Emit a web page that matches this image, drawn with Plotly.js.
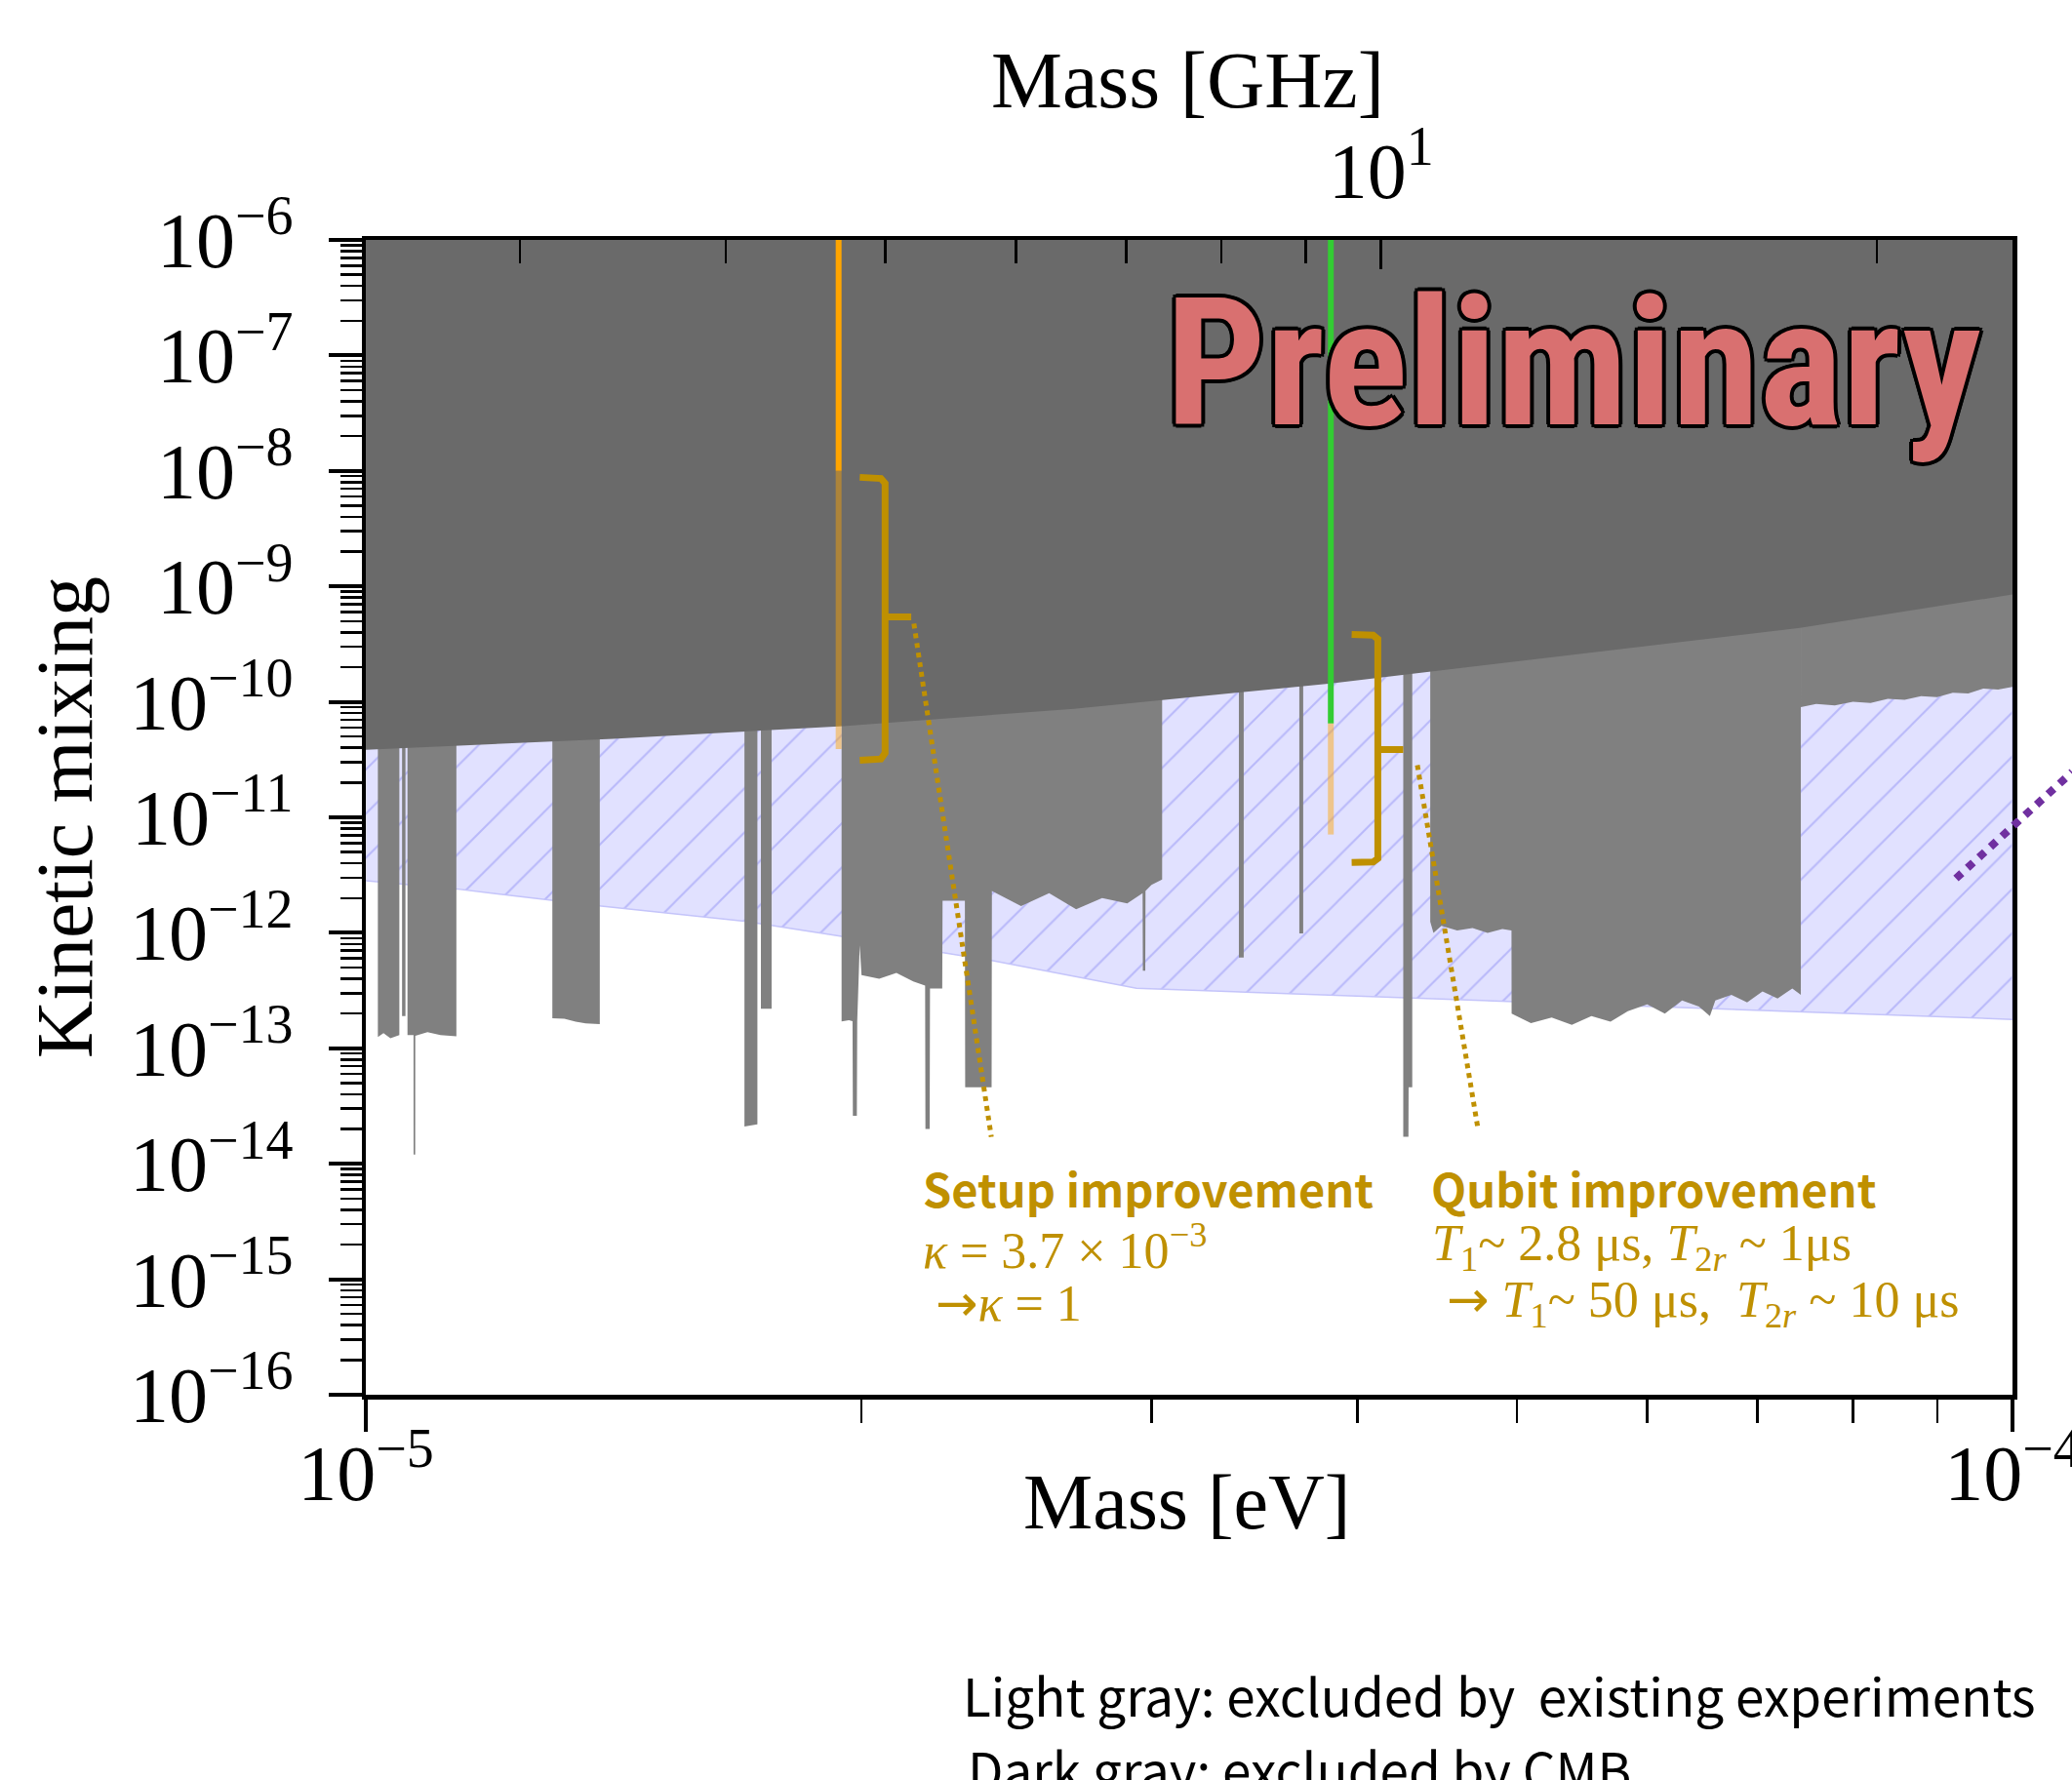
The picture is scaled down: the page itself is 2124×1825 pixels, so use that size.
<!DOCTYPE html>
<html><head><meta charset="utf-8">
<script src="https://cdn.plot.ly/plotly-3.0.1.min.js"></script>
<style>html,body{margin:0;padding:0;background:#fff;} #plot{width:2124px;height:1825px;}</style>
</head><body><div id="plot"></div>
<script>
// ================= DATA =================
const X_RANGE_EV = [1e-5, 1e-4];
const Y_RANGE = [1e-16, 1e-6];
const EV_PER_GHZ = 4.135667e-6;

const Y_TICK_VALS = [1e-16,1e-15,1e-14,1e-13,1e-12,1e-11,1e-10,1e-9,1e-8,1e-7,1e-6];
const Y_TICK_TEXT = ['10<sup>−16</sup>','10<sup>−15</sup>','10<sup>−14</sup>','10<sup>−13</sup>','10<sup>−12</sup>','10<sup>−11</sup>','10<sup>−10</sup>','10<sup>−9</sup>','10<sup>−8</sup>','10<sup>−7</sup>','10<sup>−6</sup>'];
const X_TICK_VALS = [1e-5, 1e-4];
const X_TICK_TEXT = ['10<sup>−5</sup>','10<sup>−4</sup>'];
const X_MINOR_VALS = [2e-5,3e-5,4e-5,5e-5,6e-5,7e-5,8e-5,9e-5];
const GHZ_TICK_VALS = [10];
const GHZ_TICK_TEXT = ['10<sup>1</sup>'];
const GHZ_MINOR_VALS = [3,4,5,6,7,8,9,20];

// CMB exclusion (dark gray) lower boundary
const CMB_MASS = [1.0e-5, 1.413e-5, 1.950e-5, 2.692e-5, 3.855e-5, 5.623e-5, 7.430e-5, 1.0e-4];
const CMB_EPS  = [3.85e-11, 4.79e-11, 6.17e-11, 8.71e-11, 1.445e-10, 2.75e-10, 4.37e-10, 8.51e-10];

// hatched region lower boundary
const HATCH_MASS = [1.0e-5, 1.135e-5, 1.390e-5, 1.698e-5, 1.945e-5, 2.399e-5, 2.938e-5, 1.0e-4];
const HATCH_EPS  = [2.82e-12, 2.40e-12, 1.70e-12, 1.26e-12, 9.33e-13, 5.75e-13, 3.31e-13, 1.78e-13];

// existing experiments (light gray), lower edges
const EXP1A_MASS = [1.017e-5, 1.025e-5, 1.035e-5, 1.048e-5];
const EXP1A_EPS  = [1.25e-13, 1.35e-13, 1.22e-13, 1.30e-13];
const EXP1B_MASS = [1.052e-5, 1.057e-5];
const EXP1B_EPS  = [1.9e-13, 1.9e-13];
const EXP1C_MASS = [1.060e-5, 1.069e-5, 1.0691e-5, 1.0715e-5, 1.0716e-5, 1.09e-5, 1.11e-5, 1.135e-5];
const EXP1C_EPS  = [1.30e-13, 1.30e-13, 1.2e-14, 1.2e-14, 1.28e-13, 1.38e-13, 1.30e-13, 1.27e-13];
const EXP2_MASS  = [1.298e-5, 1.32e-5, 1.341e-5, 1.36e-5, 1.387e-5];
const EXP2_EPS   = [1.82e-13, 1.80e-13, 1.70e-13, 1.64e-13, 1.62e-13];
const EXP3_MASS  = [1.698e-5, 1.729e-5];
const EXP3_EPS   = [2.1e-14, 2.2e-14];
const EXP4_MASS  = [1.7375e-5, 1.7637e-5];
const EXP4_EPS   = [2.2e-13, 2.2e-13];
const EXP5_MASS  = [1.945e-5,1.965e-5,1.975e-5,1.976e-5,1.987e-5,1.988e-5,1.995e-5,2.000e-5,2.05e-5,2.10e-5,2.15e-5,2.186e-5,2.187e-5,2.200e-5,2.201e-5,2.239e-5,2.240e-5,2.311e-5,2.312e-5,2.399e-5,2.400e-5,2.5e-5,2.6e-5,2.7e-5,2.8e-5,2.9e-5,2.963e-5,2.964e-5,2.974e-5,2.975e-5,3.0e-5,3.045e-5];
const EXP5_EPS   = [1.71e-13,1.75e-13,1.72e-13,2.6e-14,2.6e-14,1.7e-13,7.8e-13,4.3e-13,4.0e-13,4.5e-13,3.8e-13,3.5e-13,2.0e-14,2.0e-14,3.3e-13,3.3e-13,1.9e-12,1.9e-12,4.6e-14,4.6e-14,2.3e-12,1.7e-12,2.2e-12,1.6e-12,2.0e-12,1.8e-12,2.2e-12,4.7e-13,4.7e-13,2.3e-12,2.6e-12,2.9e-12];
const EXP6_MASS  = [3.390e-5, 3.413e-5];
const EXP6_EPS   = [6.1e-13, 6.1e-13];
const EXP7_MASS  = [3.689e-5, 3.709e-5];
const EXP7_EPS   = [9.9e-13, 9.9e-13];
const EXP8_MASS  = [4.266e-5, 4.297e-5, 4.298e-5, 4.320e-5];
const EXP8_EPS   = [1.71e-14, 1.71e-14, 4.6e-14, 4.6e-14];
const EXP9_MASS  = [4.43e-5,4.45e-5,4.5e-5,4.6e-5,4.7e-5,4.8e-5,4.9e-5,4.963e-5,4.964e-5,5.1e-5,5.25e-5,5.4e-5,5.55e-5,5.7e-5,5.84e-5,6.0e-5,6.15e-5,6.3e-5,6.45e-5,6.55e-5,6.6e-5,6.75e-5,6.9e-5,7.05e-5,7.2e-5,7.35e-5,7.438e-5];
const EXP9_EPS   = [1.25e-12,1.0e-12,1.15e-12,1.05e-12,1.1e-12,1.0e-12,1.08e-12,1.05e-12,2.0e-13,1.65e-13,1.85e-13,1.6e-13,1.9e-13,1.7e-13,2.1e-13,2.4e-13,2.0e-13,2.6e-13,2.3e-13,1.9e-13,2.6e-13,2.9e-13,2.5e-13,3.1e-13,2.7e-13,3.3e-13,2.9e-13];
const EXP10_MASS = [7.438e-5,7.6e-5,7.8e-5,8.0e-5,8.2e-5,8.4e-5,8.6e-5,8.8e-5,9.0e-5,9.2e-5,9.4e-5,9.6e-5,9.8e-5,1.0e-4];
const EXP10_EPS  = [9.0e-11,9.6e-11,9.3e-11,1.0e-10,9.8e-11,1.06e-10,1.04e-10,1.12e-10,1.1e-10,1.2e-10,1.18e-10,1.3e-10,1.28e-10,1.35e-10];

// this work: vertical lines
const ORANGE_MASS = 1.937e-5;
const ORANGE_SOLID_EPS = [1e-6, 1.0e-8];
const ORANGE_PALE_EPS  = [1.0e-8, 3.9e-11];
const GREEN_MASS = 3.855e-5;
const GREEN_SOLID_EPS = [1e-6, 6.5e-11];
const GREEN_PALE_EPS  = [6.5e-11, 7.1e-12];

// brackets
const BRACKET1_MASS = [1.995e-5, 2.055e-5, 2.067e-5, 2.067e-5, 2.144e-5, 2.067e-5, 2.067e-5, 2.055e-5, 1.995e-5];
const BRACKET1_EPS  = [8.8e-9, 8.6e-9, 7.8e-9, 5.45e-10, 5.45e-10, 5.45e-10, 3.6e-11, 3.2e-11, 3.12e-11];
const BRACKET2_MASS = [3.969e-5, 4.09e-5, 4.117e-5, 4.117e-5, 4.266e-5, 4.117e-5, 4.117e-5, 4.09e-5, 3.969e-5];
const BRACKET2_EPS  = [3.84e-10, 3.78e-10, 3.5e-10, 3.86e-11, 3.86e-11, 3.86e-11, 4.4e-12, 4.1e-12, 4.06e-12];

// dotted leader lines
const SETUP_LEADER_MASS = [2.152e-5, 2.398e-5];
const SETUP_LEADER_EPS  = [4.75e-10, 1.71e-14];
const QUBIT_LEADER_MASS = [4.351e-5, 4.735e-5];
const QUBIT_LEADER_EPS  = [2.83e-11, 2.04e-14];

// purple projection (leaves the frame)
const PURPLE_MASS = [9.24e-5, 1.087e-4];
const PURPLE_EPS  = [2.96e-12, 2.47e-11];

// ================= BUILD =================
const TOP = Y_RANGE[1];
const LIGHT = '#808080', DARK = '#6a6a6a', GOLD = '#bf9000';
const SERIF = '"Liberation Serif", "Times New Roman", serif';
const JP = '"Noto Sans CJK JP", "Noto Sans", sans-serif';
const ARROW = '<span style="font-family:\'DejaVu Sans\'">→</span>';

function band(mass, eps, color) {
  return {
    x: mass.concat([mass[mass.length-1], mass[0]]),
    y: eps.concat([TOP, TOP]),
    mode: 'lines', fill: 'toself', fillcolor: color,
    line: {width: 0, color: color}, hoverinfo: 'skip', showlegend: false
  };
}
function line(mass, eps, color, width, dash) {
  return {x: mass, y: eps, mode: 'lines', line: {color: color, width: width, dash: dash || 'solid'},
          hoverinfo: 'skip', showlegend: false};
}

const traces = [];
traces.push({
  x: HATCH_MASS.concat([X_RANGE_EV[1], X_RANGE_EV[0]]),
  y: HATCH_EPS.concat([TOP, TOP]),
  mode: 'lines', fill: 'toself', fillcolor: '#e0e0ff',
  fillpattern: {shape: '/', fgcolor: '#b8b8fa', bgcolor: '#e1e1ff', size: 32, solidity: 0.06},
  line: {color: '#c4c4fa', width: 1.5}, hoverinfo: 'skip', showlegend: false
});
[[EXP1A_MASS,EXP1A_EPS],[EXP1B_MASS,EXP1B_EPS],[EXP1C_MASS,EXP1C_EPS],[EXP2_MASS,EXP2_EPS],
 [EXP3_MASS,EXP3_EPS],[EXP4_MASS,EXP4_EPS],[EXP5_MASS,EXP5_EPS],[EXP6_MASS,EXP6_EPS],
 [EXP7_MASS,EXP7_EPS],[EXP8_MASS,EXP8_EPS],[EXP9_MASS,EXP9_EPS],[EXP10_MASS,EXP10_EPS]]
  .forEach(([m,e]) => traces.push(band(m, e, LIGHT)));
traces.push(band(CMB_MASS, CMB_EPS, DARK));
traces.push(line([ORANGE_MASS, ORANGE_MASS], ORANGE_SOLID_EPS, '#ffa500', 6));
traces.push(line([ORANGE_MASS, ORANGE_MASS], ORANGE_PALE_EPS, 'rgba(255,165,0,0.45)', 6));
traces.push(line([GREEN_MASS, GREEN_MASS], GREEN_SOLID_EPS, '#33cc33', 6));
traces.push(line([GREEN_MASS, GREEN_MASS], GREEN_PALE_EPS, 'rgba(255,165,0,0.45)', 6));
traces.push(line(BRACKET1_MASS, BRACKET1_EPS, GOLD, 7));
traces.push(line(BRACKET2_MASS, BRACKET2_EPS, GOLD, 7));
traces.push(line(SETUP_LEADER_MASS, SETUP_LEADER_EPS, GOLD, 5, 'dot'));
traces.push(line(QUBIT_LEADER_MASS, QUBIT_LEADER_EPS, GOLD, 5, 'dot'));
// top (GHz) axis carrier
traces.push({x: X_RANGE_EV.map(v => v / EV_PER_GHZ), y: [Y_RANGE[0], Y_RANGE[0]], xaxis: 'x2', yaxis: 'y',
             mode: 'lines', line: {width: 0}, hoverinfo: 'skip', showlegend: false});

// paper coords for the purple line (extends past the frame)
const lx = X_RANGE_EV.map(Math.log10), ly = Y_RANGE.map(Math.log10);
const px = v => (Math.log10(v) - lx[0]) / (lx[1] - lx[0]);
const py = v => (Math.log10(v) - ly[0]) / (ly[1] - ly[0]);

// stamp font: first available condensed face, sized to fit the stamp width
function fontAvailable(name) {
  const ctx = document.createElement('canvas').getContext('2d');
  const s = 'Preliminary WMwmil 0123';
  return ['monospace', 'serif', 'sans-serif'].some(fb => {
    ctx.font = `bold 80px ${fb}`; const a = ctx.measureText(s).width;
    ctx.font = `bold 80px "${name}", ${fb}`; const b = ctx.measureText(s).width;
    return Math.abs(a - b) > 0.5;
  });
}
const cands = ['Impact', 'Roboto Condensed', 'DejaVu Sans Condensed', 'Liberation Sans'];
const stampFont = cands.find(fontAvailable) || 'sans-serif';
const mctx = document.createElement('canvas').getContext('2d');
mctx.font = `bold 100px "${stampFont}"`;
const stampSize = 100 * 836 / mctx.measureText('Preliminary').width;

const tickFont = {family: SERIF, size: 80, color: '#000'};
const layout = {
  width: 2124, height: 1825,
  margin: {l: 375, r: 61, t: 246, b: 395},
  paper_bgcolor: '#fff', plot_bgcolor: '#fff',
  showlegend: false,
  xaxis: {
    type: 'log', range: lx, showgrid: false, zeroline: false,
    showline: true, linewidth: 4.5, linecolor: '#000',
    tickmode: 'array', tickvals: X_TICK_VALS, ticktext: X_TICK_TEXT,
    ticks: 'outside', ticklen: 33, tickwidth: 4, tickcolor: '#000', tickfont: tickFont,
    ticklabeloverflow: 'allow', ticklabelstandoff: -26,
    minor: {tickmode: 'array', tickvals: X_MINOR_VALS, ticks: 'outside', ticklen: 24, tickwidth: 2.5, tickcolor: '#000', showgrid: false},
  },
  xaxis2: {
    type: 'log', overlaying: 'x', side: 'top', anchor: 'y',
    range: [Math.log10(X_RANGE_EV[0] / EV_PER_GHZ), Math.log10(X_RANGE_EV[1] / EV_PER_GHZ)],
    showgrid: false, zeroline: false, showline: true, linewidth: 4.5, linecolor: '#000',
    tickmode: 'array', tickvals: GHZ_TICK_VALS, ticktext: GHZ_TICK_TEXT,
    ticks: 'inside', ticklen: 30, tickwidth: 3.5, tickcolor: '#000', tickfont: tickFont,
    ticklabelstandoff: 7,
    minor: {tickmode: 'array', tickvals: GHZ_MINOR_VALS, ticks: 'inside', ticklen: 24, tickwidth: 2.5, tickcolor: '#000', showgrid: false}
  },
  yaxis: {
    type: 'log', range: ly, showgrid: false, zeroline: false,
    showline: true, linewidth: 4.5, linecolor: '#000', mirror: true,
    tickmode: 'array', tickvals: Y_TICK_VALS, ticktext: Y_TICK_TEXT,
    ticks: 'outside', ticklen: 34, tickwidth: 4, tickcolor: '#000', tickfont: tickFont,
    ticklabelstandoff: 20,
    minor: {dtick: 'D1', ticks: 'outside', ticklen: 22, tickwidth: 2.5, tickcolor: '#000', showgrid: false},
    title: {text: 'Kinetic mixing', font: {family: SERIF, size: 82, color: '#000'}, standoff: 12}
  },
  shapes: [{
    type: 'line', xref: 'paper', yref: 'paper',
    x0: px(PURPLE_MASS[0]), y0: py(PURPLE_EPS[0]), x1: px(PURPLE_MASS[1]), y1: py(PURPLE_EPS[1]),
    line: {color: '#7030a0', width: 8, dash: 'dot'}
  }],
  annotations: [
    {text: 'Preliminary', xref: 'paper', yref: 'paper', x: 0.7334, y: 0.893, xanchor: 'center', yanchor: 'middle',
     showarrow: false,
     font: {family: `"${stampFont}", sans-serif`, size: stampSize, weight: 'bold', color: '#d97070',
            shadow: 'black 4px 0 0, black -4px 0 0, black 0 4px 0, black 0 -4px 0, black 3px 3px 0, black -3px 3px 0, black 3px -3px 0, black -3px -3px 0'}},
    {text: 'Mass [GHz]', xref: 'paper', yref: 'paper', x: 0.4994, y: 1.138, xanchor: 'center', yanchor: 'middle',
     showarrow: false, font: {family: SERIF, size: 82, color: '#000'}},
    {text: 'Mass [eV]', xref: 'paper', yref: 'paper', x: 0.4985, y: -0.0925, xanchor: 'center', yanchor: 'middle',
     showarrow: false, font: {family: SERIF, size: 80, color: '#000'}},
    {text: '<b>Setup improvement</b>', xref: 'paper', yref: 'paper', x: 0.3371, y: 0.1795, xanchor: 'left', yanchor: 'middle',
     showarrow: false, font: {family: JP, size: 47, color: GOLD}},
    {text: '<i>κ</i> = 3.7 × 10<sup>−3</sup>', xref: 'paper', yref: 'paper', x: 0.3371, y: 0.128, xanchor: 'left', yanchor: 'middle',
     showarrow: false, font: {family: SERIF, size: 52, color: GOLD}},
    {text: ARROW + '<i>κ</i> = 1', xref: 'paper', yref: 'paper', x: 0.3447, y: 0.0798, xanchor: 'left', yanchor: 'middle',
     showarrow: false, font: {family: SERIF, size: 52, color: GOLD}},
    {text: '<b>Qubit improvement</b>', xref: 'paper', yref: 'paper', x: 0.6460, y: 0.1795, xanchor: 'left', yanchor: 'middle',
     showarrow: false, font: {family: JP, size: 47, color: GOLD}},
    {text: '<i>T</i><sub>1</sub>~ 2.8 μs, <i>T</i><sub>2<i>r</i></sub> ~ 1μs', xref: 'paper', yref: 'paper', x: 0.6463, y: 0.128, xanchor: 'left', yanchor: 'middle',
     showarrow: false, font: {family: SERIF, size: 52, color: GOLD}},
    {text: ARROW + ' <i>T</i><sub>1</sub>~ 50 μs,  <i>T</i><sub>2<i>r</i></sub> ~ 10 μs', xref: 'paper', yref: 'paper', x: 0.6552, y: 0.0798, xanchor: 'left', yanchor: 'middle',
     showarrow: false, font: {family: SERIF, size: 52, color: GOLD}},
    {text: 'Light gray: excluded by  existing experiments', xref: 'paper', yref: 'paper', x: 0.3614, y: -0.2597, xanchor: 'left', yanchor: 'middle',
     showarrow: false, font: {family: JP, size: 53, color: '#000'}},
    {text: 'Dark gray: excluded by CMB', xref: 'paper', yref: 'paper', x: 0.3643, y: -0.3231, xanchor: 'left', yanchor: 'middle',
     showarrow: false, font: {family: JP, size: 53, color: '#000'}}
  ]
};
Plotly.newPlot('plot', traces, layout, {displayModeBar: false, staticPlot: true});
</script></body></html>
